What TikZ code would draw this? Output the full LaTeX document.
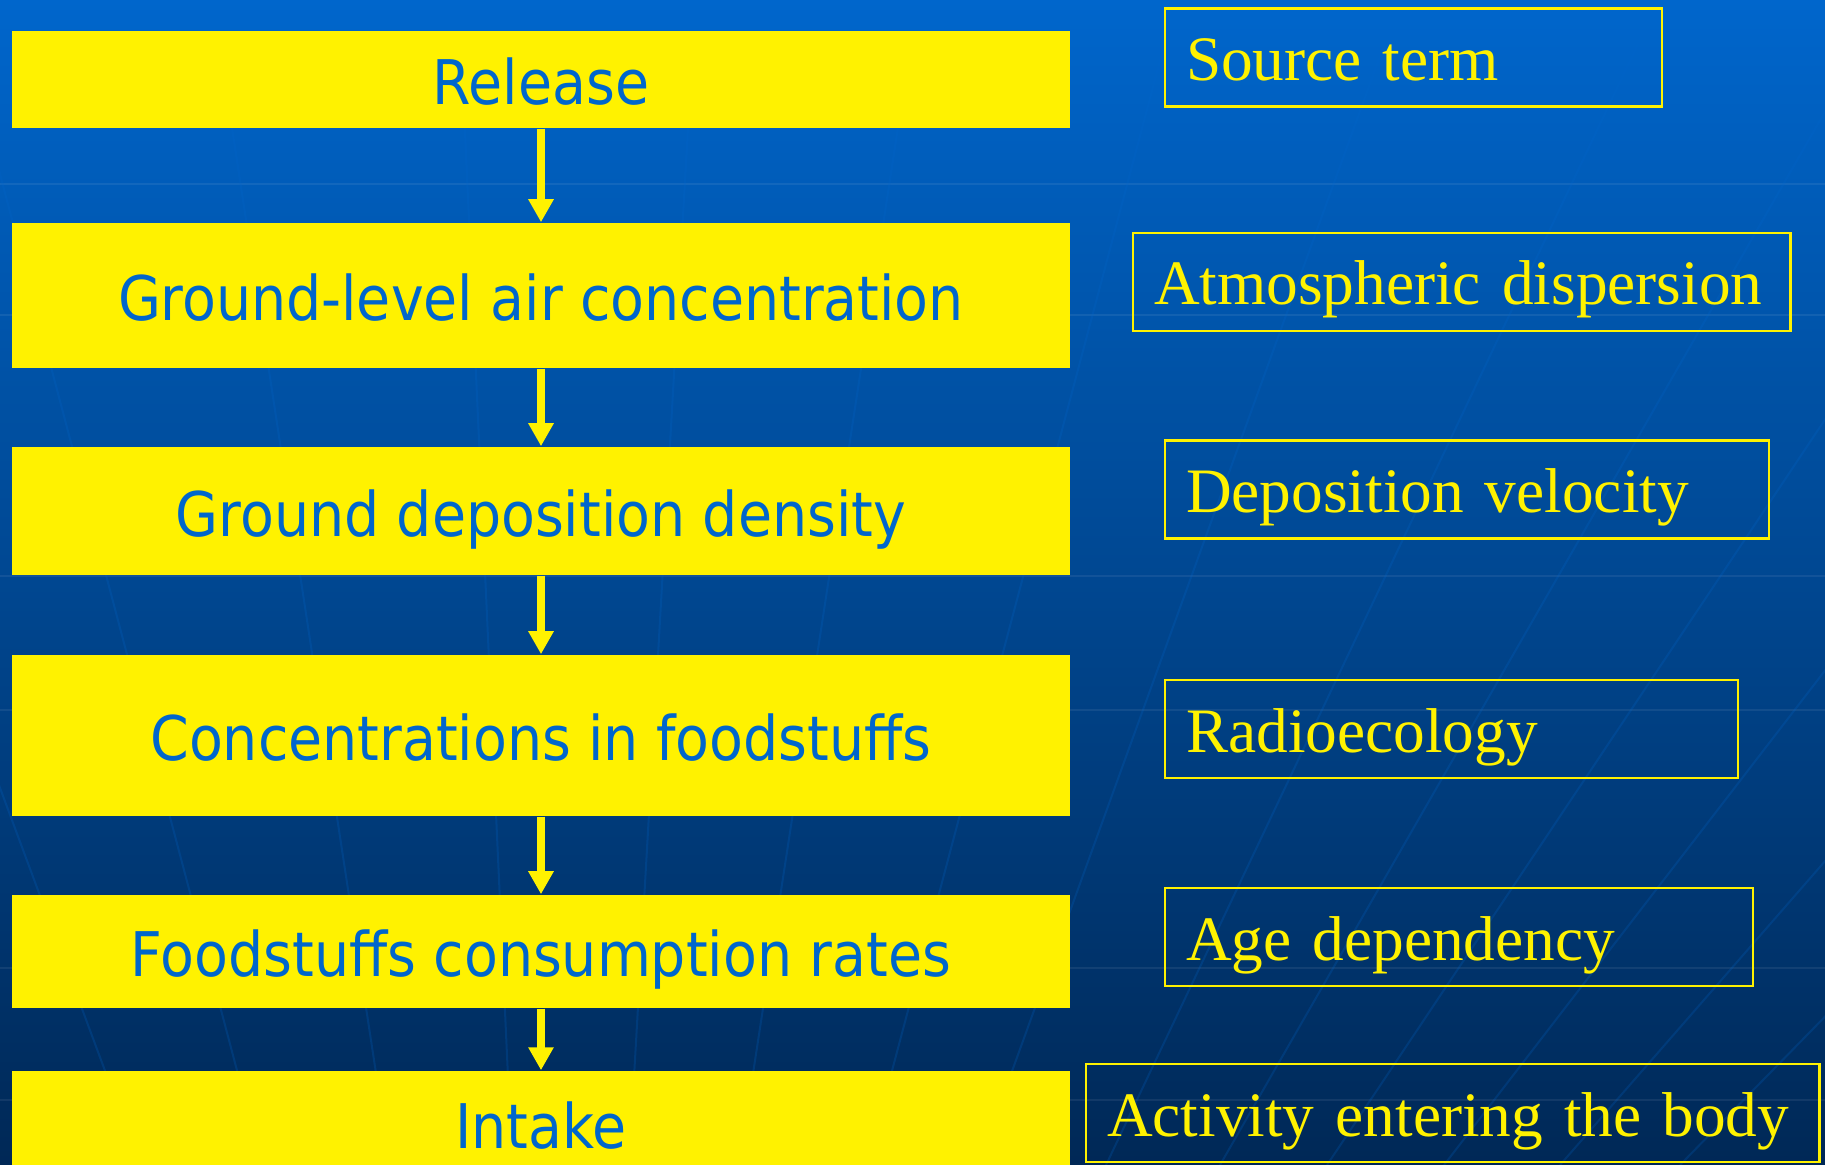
\documentclass[tikz,border=0pt]{standalone}
\usepackage{fontspec}
\setmainfont{Liberation Serif}
\newfontfamily\flowfont{DejaVu Sans Condensed}
\usetikzlibrary{arrows.meta}

\definecolor{slideTop}{RGB}{0,102,204}
\definecolor{slideMid}{RGB}{0,78,160}
\definecolor{slideBot}{RGB}{0,40,86}
\definecolor{flowBlue}{RGB}{0,102,204}

\begin{document}
\begin{tikzpicture}[x=0.01cm,y=-0.01cm,
    flow/.style={rectangle,fill=yellow,text=flowBlue,minimum width=10.58cm,inner sep=0pt,
        font=\flowfont\fontsize{17.5pt}{21pt}\selectfont,text height=0.6cm,text depth=0.1cm},
    note/.style={rectangle,draw=yellow,line width=0.6pt,text=yellow,anchor=west,align=left,
        minimum height=0.98cm,inner xsep=0.21cm,inner ysep=0pt,text width=#1,
        font=\fontsize{18pt}{22pt}\selectfont,text height=0.56cm,text depth=0.1cm},
    flowarrow/.style={yellow,line width=0.08cm,-{Triangle[width=0.24cm,length=0.23cm]}},
    gridline/.style={white,opacity=0.07,line width=0.025cm},
    meridian/.style={flowBlue,opacity=0.22,line width=0.02cm}]
    \useasboundingbox (0,0) rectangle (1825,1165);
    \clip (0,0) rectangle (1825,1165);

    % background with the faint globe grid
    \shade[top color=slideTop,middle color=slideMid,bottom color=slideBot] (0,0) rectangle (1825,1165);
    \foreach \y in {184,315,576,710,968,1100}
        \draw[gridline] (0,\y) -- (1825,\y);
    \foreach \xb in {140,262,390,512,629,739,867,978,1106,1220,1327,1444,1560,1680} {
        \pgfmathsetmacro\xt{564+2.02*(\xb-564)}
        \draw[meridian] (\xb,1165) -- (\xt,0);
    }

    % the chain of quantities
    \node[flow,minimum height=0.97cm] (rel) at (541,79.5) {Release};
    \node[flow,minimum height=1.45cm] (air) at (541,295.5) {Ground-level air concentration};
    \node[flow,minimum height=1.28cm] (dep) at (541,511) {Ground deposition density};
    \node[flow,minimum height=1.61cm] (food) at (541,735.5) {Concentrations in foodstuffs};
    \node[flow,minimum height=1.13cm] (cons) at (541,951.5) {Foodstuffs consumption rates};
    \node[flow,minimum height=1.04cm] (intake) at (541,1123) {Intake};

    % what each step depends on
    \node[note=4.55cm] (src) at (1164,57.5) {Source term};
    \node[note=6.15cm] (disp) at (1132,282) {Atmospheric dispersion};
    \node[note=5.62cm] (vel) at (1164,489.5) {Deposition velocity};
    \node[note=5.31cm] (eco) at (1164,729) {Radioecology};
    \node[note=5.46cm] (age) at (1164,937) {Age dependency};
    \node[note=6.91cm] (act) at (1085,1113) {Activity entering the body};

    \draw[flowarrow] (rel) -- (air);
    \draw[flowarrow] (air) -- (dep);
    \draw[flowarrow] (dep) -- (food);
    \draw[flowarrow] (food) -- (cons);
    \draw[flowarrow] (cons) -- (intake);
\end{tikzpicture}
\end{document}
